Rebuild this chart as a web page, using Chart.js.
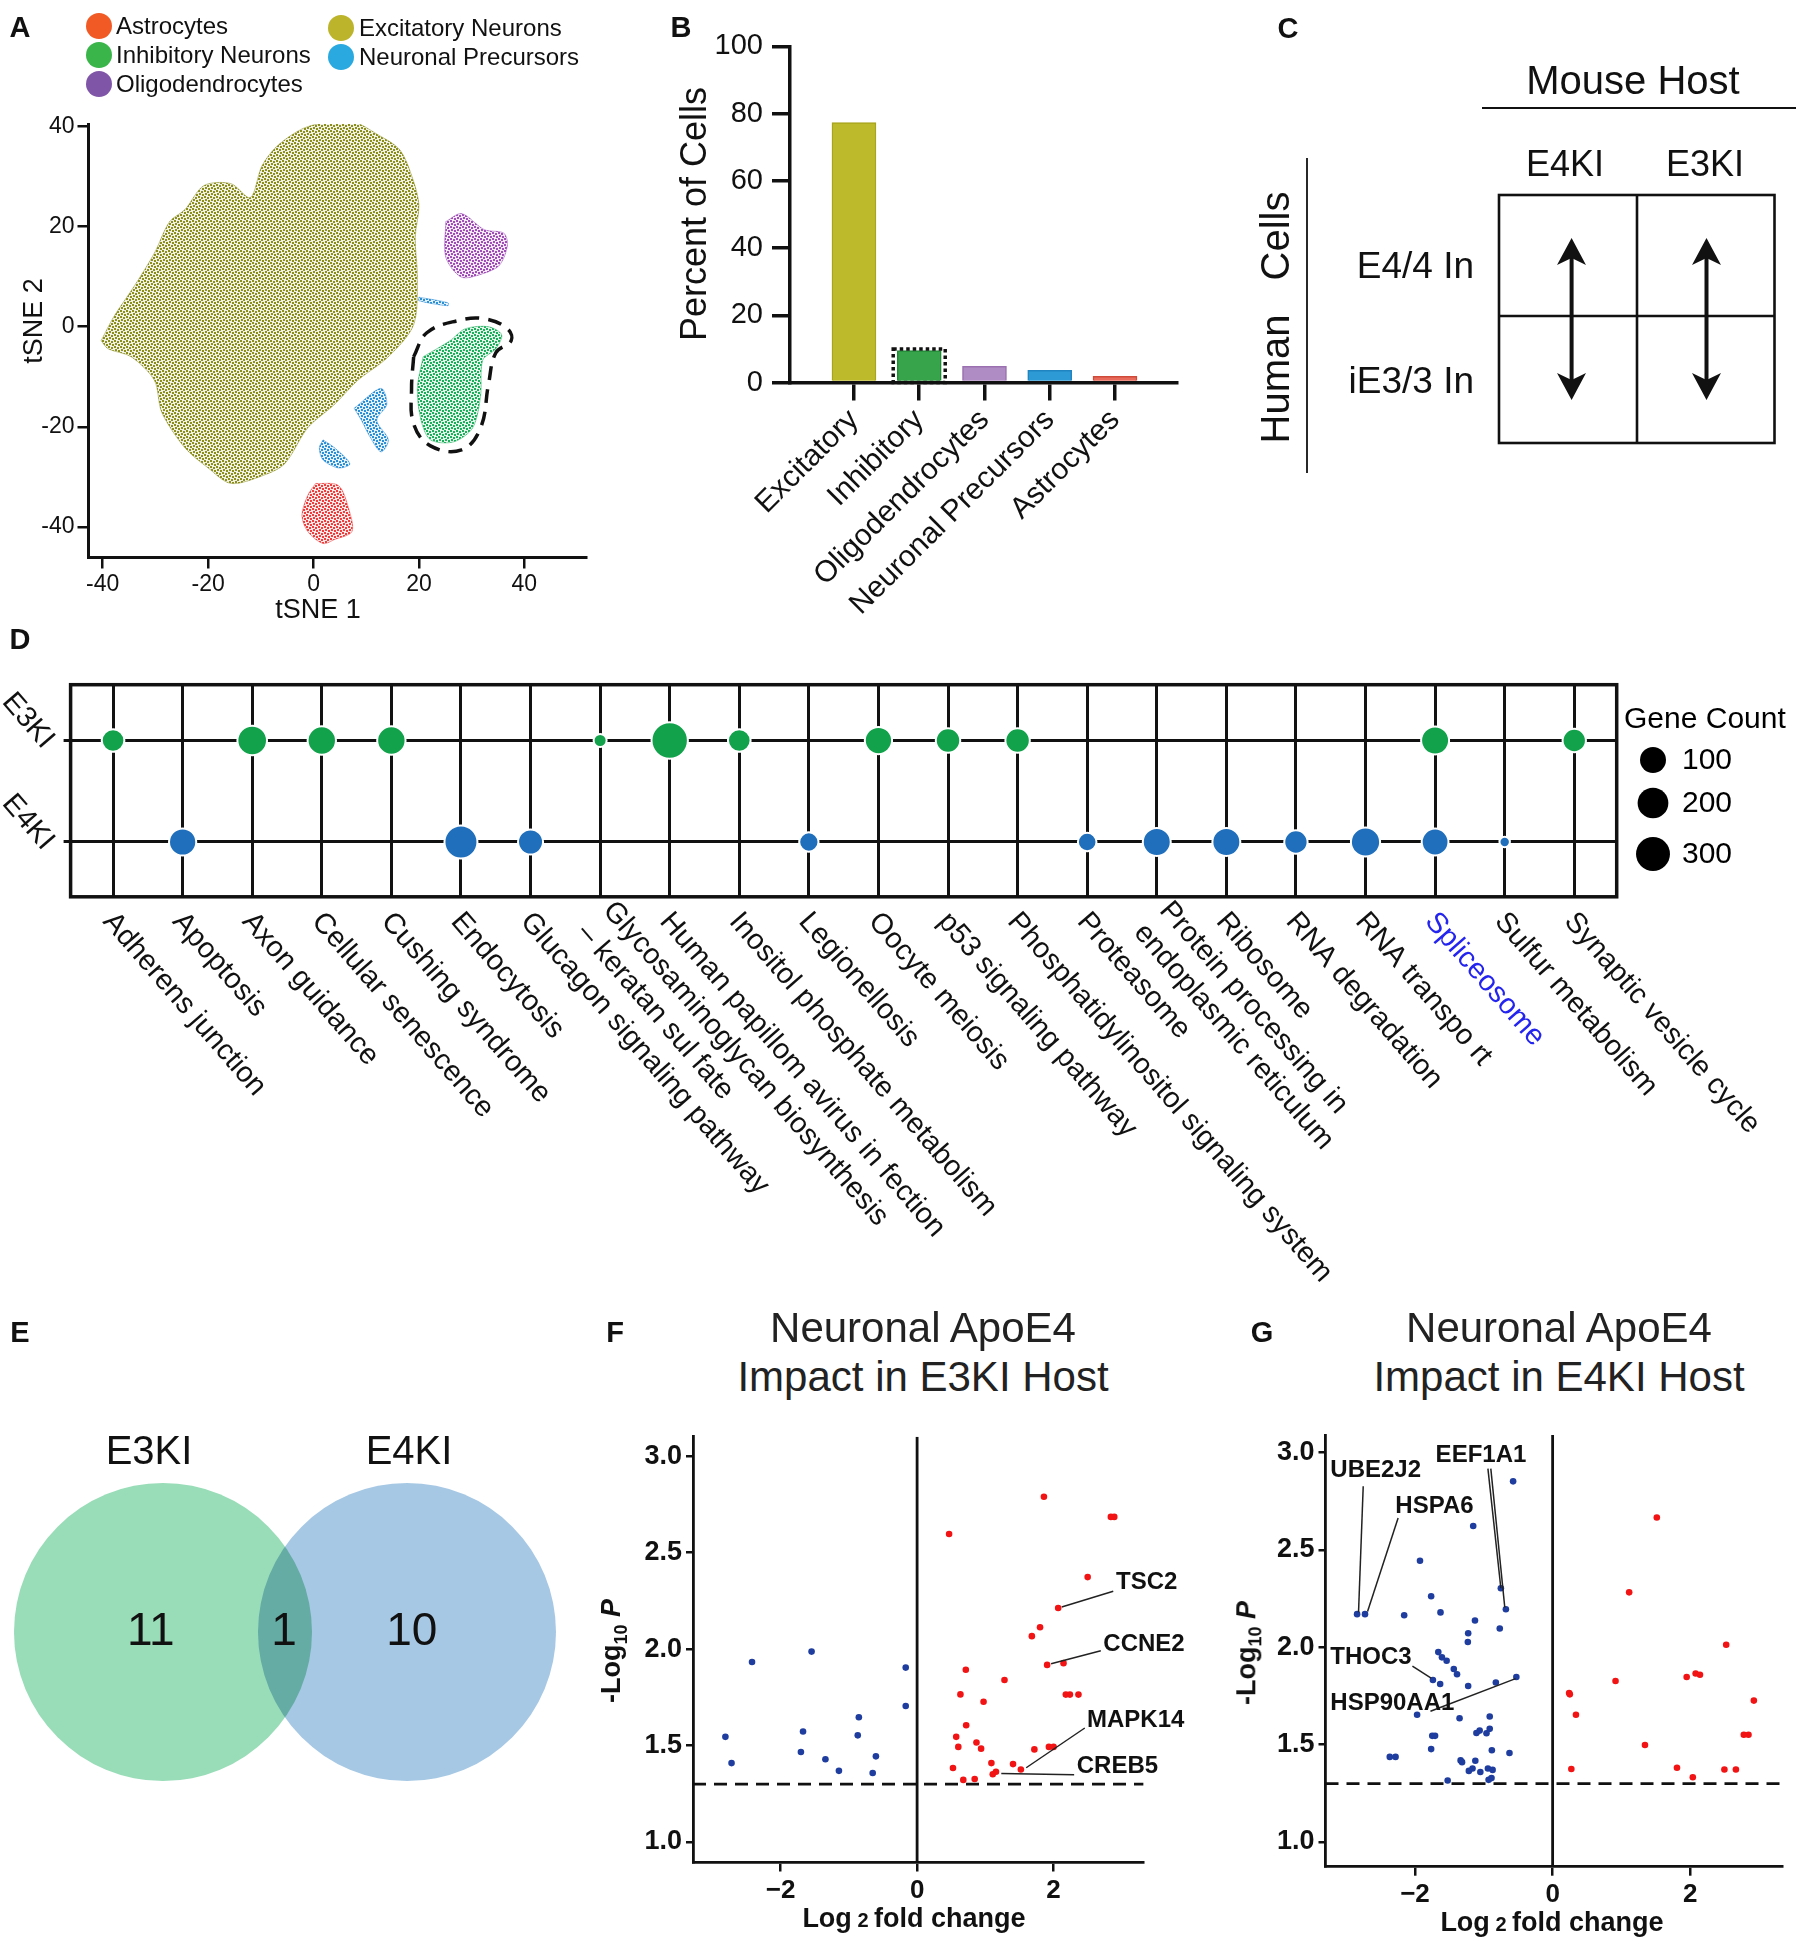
<!DOCTYPE html>
<html>
<head>
<meta charset="utf-8">
<title>Neuronal ApoE4 figure</title>
<script src="https://cdn.jsdelivr.net/npm/chart.js@4.4.1/dist/chart.umd.min.js"></script>
<style>
  body { margin: 0; background: #fff; }
  #page { position: relative; width: 1807px; height: 1950px; overflow: hidden;
          font-family: "Liberation Sans", Arial, sans-serif; color: #111; }
  #page canvas, #page svg { position: absolute; }
  .c { position: absolute; white-space: pre; line-height: 1; transform: translate(-50%, -50%); }
  .l { position: absolute; white-space: pre; line-height: 1; transform: translate(0, -50%); }
  .up { transform: translate(-50%, -50%) rotate(-90deg); }
  .letter { font-weight: bold; font-size: 29px; }
  .dot { position: absolute; width: 26px; height: 26px; border-radius: 50%; transform: translate(-50%, -50%); }
  .lg { font-size: 24px; }
  .vt { font-size: 42px; color: #222; }
  .vb { font-weight: bold; font-size: 27px; }
  .vb sub { font-size: 18px; }
</style>
</head>
<body>
<div id="page">
  <canvas id="chart-a" width="600" height="520" style="left:0;top:100px"></canvas>
  <canvas id="chart-b" width="560" height="610" style="left:640px;top:20px"></canvas>
  <canvas id="chart-d" width="1807" height="700" style="left:0;top:620px"></canvas>
  <canvas id="chart-e" width="600" height="464" style="left:0;top:1400px"></canvas>
  <canvas id="chart-f" width="600" height="550" style="left:600px;top:1400px"></canvas>
  <canvas id="chart-g" width="577" height="550" style="left:1230px;top:1400px"></canvas>

  <svg width="1807" height="500" style="left:0;top:0" font-family="Liberation Sans, Arial, sans-serif" fill="#111">
    <text x="1633" y="80" font-size="40" text-anchor="middle" dominant-baseline="central">Mouse Host</text>
    <line x1="1482" y1="108" x2="1796" y2="108" stroke="#111" stroke-width="1.8"/>
    <line x1="1307" y1="158" x2="1307" y2="473" stroke="#111" stroke-width="1.8"/>
    <text transform="translate(1275,379) rotate(-90)" font-size="40" text-anchor="middle" dominant-baseline="central">Human</text>
    <text transform="translate(1275,236) rotate(-90)" font-size="40" text-anchor="middle" dominant-baseline="central">Cells</text>
    <text x="1565" y="163" font-size="36" text-anchor="middle" dominant-baseline="central">E4KI</text>
    <text x="1705" y="163" font-size="36" text-anchor="middle" dominant-baseline="central">E3KI</text>
    <text x="1474" y="265" font-size="37" text-anchor="end" dominant-baseline="central">E4/4 In</text>
    <text x="1474" y="380" font-size="37" text-anchor="end" dominant-baseline="central">iE3/3 In</text>
    <rect x="1499" y="195" width="275.5" height="248" fill="none" stroke="#111" stroke-width="2.6"/>
    <line x1="1637" y1="195" x2="1637" y2="443" stroke="#111" stroke-width="2.6"/>
    <line x1="1499" y1="316" x2="1774.5" y2="316" stroke="#111" stroke-width="2.6"/>
    <line x1="1571.6" y1="258" x2="1571.6" y2="380" stroke="#111" stroke-width="4"/>
    <polygon points="1571.6,238 1586,265 1571.6,258 1557,265"/>
    <polygon points="1571.6,400 1586,373 1571.6,380 1557,373"/>
    <line x1="1706.5" y1="258" x2="1706.5" y2="380" stroke="#111" stroke-width="4"/>
    <polygon points="1706.5,238 1721,265 1706.5,258 1692,265"/>
    <polygon points="1706.5,400 1721,373 1706.5,380 1692,373"/>
  </svg>

  <div class="c letter" style="left:20px;top:27px">A</div>
  <div class="c letter" style="left:681px;top:27px">B</div>
  <div class="c letter" style="left:1288px;top:28px">C</div>
  <div class="c letter" style="left:20px;top:639px">D</div>
  <div class="c letter" style="left:20px;top:1332px">E</div>
  <div class="c letter" style="left:615px;top:1332px">F</div>
  <div class="c letter" style="left:1262px;top:1332px">G</div>

  <div class="dot" style="left:99px;top:26px;background:#f15a24"></div>
  <div class="l lg" style="left:116px;top:26px">Astrocytes</div>
  <div class="dot" style="left:99px;top:55px;background:#39b54a"></div>
  <div class="l lg" style="left:116px;top:55px">Inhibitory Neurons</div>
  <div class="dot" style="left:99px;top:84px;background:#7f55a8"></div>
  <div class="l lg" style="left:116px;top:84px">Oligodendrocytes</div>
  <div class="dot" style="left:341px;top:28px;background:#bcb42a"></div>
  <div class="l lg" style="left:359px;top:28px">Excitatory Neurons</div>
  <div class="dot" style="left:341px;top:57px;background:#29a9e0"></div>
  <div class="l lg" style="left:359px;top:57px">Neuronal Precursors</div>

  <div class="c" style="left:318px;top:609px;font-size:27px">tSNE 1</div>
  <div class="c up" style="left:33px;top:321px;font-size:27px">tSNE 2</div>
  <div class="c up" style="left:694px;top:214px;font-size:36px">Percent of Cells</div>

  <div class="c" style="left:149px;top:1450px;font-size:40px">E3KI</div>
  <div class="c" style="left:409px;top:1450px;font-size:40px">E4KI</div>

  <div class="c vt" style="left:923px;top:1328px">Neuronal ApoE4</div>
  <div class="c vt" style="left:923px;top:1377px">Impact in E3KI Host</div>
  <div class="c vt" style="left:1559px;top:1328px">Neuronal ApoE4</div>
  <div class="c vt" style="left:1559px;top:1377px">Impact in E4KI Host</div>

  <div class="c up vb" style="left:614px;top:1651px">-Log<sub>10</sub> <i>P</i></div>
  <div class="c vb" style="left:914px;top:1918px">Log<span style="font-size:20px"> 2 </span>fold change</div>
  <div class="c up vb" style="left:1249px;top:1653px">-Log<sub>10</sub> <i>P</i></div>
  <div class="c vb" style="left:1552px;top:1922px">Log<span style="font-size:20px"> 2 </span>fold change</div>
</div>

<script>
/*--------------------------------------------------------------
| Values
--------------------------------------------------------------*/
// A: outlines of each tSNE cluster, [tSNE 1, tSNE 2]
const excitatoryOutline = [[-40.3,-2.8],[-37.9,2.0],[-33.9,8.3],[-30.2,14.7],[-27.3,21.0],[-24.4,23.4],[-20.8,28.2],[-15.7,28.6],[-12.0,25.8],[-9.8,32.1],[-6.9,36.1],[-1.8,39.7],[3.3,40.9],[7.7,40.9],[12.0,38.5],[16.4,35.3],[19.0,29.0],[20.0,24.2],[19.3,17.9],[19.7,9.9],[19.0,0.4],[14.2,-6.0],[8.4,-10.7],[4.0,-15.5],[-1.1,-20.2],[-5.5,-27.4],[-9.8,-29.8],[-15.7,-31.3],[-20.0,-28.2],[-24.4,-24.2],[-28.8,-17.1],[-30.2,-10.7],[-34.6,-6.0],[-39.0,-4.4]];
const inhibitoryOutline = [[20.8,-6.0],[25.9,-2.8],[28.8,-0.4],[33.2,0.0],[35.7,-1.6],[34.6,-4.4],[32.1,-6.7],[31.7,-13.9],[30.2,-20.2],[26.6,-23.0],[22.2,-22.6],[20.4,-18.7],[19.7,-12.3]];
const oligodendrocyteOutline = [[25.1,21.0],[28.1,22.6],[32.4,19.4],[36.1,18.7],[36.8,16.3],[35.3,12.3],[32.4,10.7],[28.1,9.9],[25.1,13.9]];
const astrocyteOutline = [[0.4,-31.3],[4.7,-31.7],[6.6,-36.1],[7.3,-40.9],[4.0,-42.5],[1.8,-43.3],[-1.1,-40.9],[-2.2,-37.7],[-1.1,-33.7]];
const precursorOutline1 = [[1.8,-22.6],[4.0,-24.2],[6.9,-27.4],[4.7,-28.2],[1.8,-26.6],[1.1,-24.2]];
const precursorOutline2 = [[7.7,-16.3],[12.8,-12.3],[13.9,-15.5],[12.0,-18.7],[14.2,-22.6],[12.8,-25.0],[10.6,-21.8],[9.1,-18.7]];
const precursorOutline3 = [[20.0,5.9],[25.5,4.8],[25.5,4.2],[20.0,5.2]];
const inhibitoryGate = [[19.0,-6.0],[21.5,-1.2],[27.3,1.2],[32.4,1.6],[36.8,-0.4],[37.5,-2.8],[34.6,-5.2],[33.2,-11.5],[31.7,-20.2],[28.1,-24.6],[22.2,-23.8],[19.0,-19.4],[18.6,-12.3]];
const tsneTicks = [-40, -20, 0, 20, 40];

// B: share of cells per type
const cellTypes = ["Excitatory", "Inhibitory", "Oligodendrocytes", "Neuronal Precursors", "Astrocytes"];
const cellPercent = [77.3, 9.5, 4.8, 3.6, 1.8];
const inhibitoryBoxTop = 10.0;
const percentTicks = [0, 20, 40, 60, 80, 100];

// D: enriched pathways and gene counts per host (null = not enriched)
const pathways = [
  "Adherens junction", "Apoptosis", "Axon guidance", "Cellular senescence", "Cushing syndrome",
  "Endocytosis", "Glucagon signaling pathway", "Glycosaminoglycan biosynthesis\n\u2013 keratan sul fate",
  "Human papillom avirus in fection", "Inositol phosphate metabolism", "Legionellosis", "Oocyte meiosis",
  "p53 signaling pathway", "Phosphatidylinositol signaling system", "Proteasome",
  "Protein processing in\nendoplasmic reticulum", "Ribosome", "RNA degradation", "RNA transpo rt",
  "Spliceosome", "Sulfur metabolism", "Synaptic vesicle cycle"
];
const e3kiGeneCount = [39, null, 129, 107, 107, null, null, 3, 317, 39, null, 89, 55, 55, null, null, null, null, null, 100, null, 45];
const e4kiGeneCount = [null, 89, null, null, null, 207, 61, null, null, null, 19, null, null, null, 16, 100, 100, 45, 121, 83, 1, null];
const hostRows = ["E4KI", "E3KI"];
const geneCountKey = [100, 200, 300];

// E: Venn counts
const vennCounts = [11, 1, 10]; // E3KI only, shared, E4KI only

// F: ApoE4 impact in E3KI host, [log2 fold change, -log10 P]
const fDown = [[-2.81,1.545],[-2.72,1.409],[-2.42,1.933],[-1.547,1.987],[-1.672,1.573],[-1.703,1.467],[-1.344,1.429],[-1.146,1.369],[-0.854,1.647],[-0.870,1.553],[-0.604,1.444],[-0.651,1.358],[-0.167,1.904],[-0.167,1.705]];
const fUp = [[1.859,2.789],[2.84,2.685],[2.89,2.685],[0.469,2.596],[2.5,2.373],[2.068,2.213],[1.802,2.113],[1.682,2.067],[1.906,1.918],[2.146,1.927],[0.714,1.893],[1.281,1.84],[0.635,1.765],[2.18,1.764],[2.24,1.764],[2.365,1.764],[0.974,1.727],[0.719,1.605],[0.573,1.545],[0.604,1.493],[0.870,1.516],[0.938,1.484],[1.719,1.48],[1.932,1.493],[2.0,1.493],[1.089,1.409],[1.406,1.404],[1.521,1.376],[0.526,1.384],[1.109,1.351],[1.156,1.364],[0.677,1.322],[0.844,1.327]];
const fGenes = ["TSC2", "CCNE2", "MAPK14", "CREB5"];

// G: ApoE4 impact in E4KI host
const gDown = [[-2.841,2.170],[-2.726,2.170],[-2.157,2.164],[-1.927,2.444],[-1.765,2.262],[-1.629,2.179],[-1.154,2.623],[-1.128,2.137],[-1.227,2.072],[-1.232,2.027],[-0.752,2.303],[-0.679,2.195],[-0.768,2.096],[-0.574,2.852],[-1.661,1.975],[-1.608,1.948],[-1.540,1.931],[-1.436,1.888],[-1.389,1.861],[-1.739,1.832],[-1.634,1.811],[-1.227,1.801],[-0.825,1.819],[-0.527,1.847],[-1.969,1.653],[-1.352,1.635],[-0.914,1.644],[-0.914,1.581],[-1.060,1.572],[-1.107,1.560],[-0.961,1.558],[-1.749,1.545],[-1.708,1.545],[-1.765,1.477],[-0.883,1.471],[-0.627,1.457],[-2.366,1.437],[-2.282,1.437],[-1.337,1.419],[-1.316,1.410],[-1.123,1.417],[-1.164,1.377],[-1.217,1.365],[-1.050,1.359],[-0.940,1.377],[-0.872,1.370],[-1.525,1.316],[-0.930,1.319],[-0.888,1.328]];
const gUp = [[1.514,2.666],[1.112,2.282],[2.522,2.013],[0.914,1.827],[1.948,1.847],[2.078,1.865],[2.141,1.859],[0.24,1.765],[0.25,1.758],[0.339,1.653],[2.924,1.726],[2.778,1.551],[2.846,1.551],[1.342,1.498],[0.272,1.375],[1.807,1.381],[2.496,1.372],[2.663,1.372],[2.037,1.332]];
const gGenes = ["UBE2J2", "HSPA6", "EEF1A1", "THOC3", "HSP90AA1"];

const log2Ticks = [-2, 0, 2];
const log10Ticks = [1.0, 1.5, 2.0, 2.5, 3.0];
const pThreshold = 1.3;

/*--------------------------------------------------------------
| Shared setup
--------------------------------------------------------------*/
const FONT = '"Liberation Sans", Arial, sans-serif';
const INK = "#111";
Chart.defaults.font.family = FONT;
Chart.defaults.color = INK;
Chart.defaults.animation = false;
Chart.defaults.responsive = false;
Chart.defaults.events = [];
Chart.defaults.layout.autoPadding = false;
Chart.defaults.plugins.legend.display = false;
Chart.defaults.plugins.tooltip.enabled = false;

const toPoints = (pairs) => pairs.map(([x, y]) => ({ x, y }));
const ring = (pairs) => toPoints(pairs.concat([pairs[0]]));
const fixedTicks = (values) => (scale) => { scale.ticks = values.map((v) => ({ value: v })); };
const dotRadius = (count) => 4.22 * Math.pow(count, 0.244);

// dotted texture standing in for the thousands of single cells
function speckle(ctx, color) {
  const tile = document.createElement("canvas");
  tile.width = 6;
  tile.height = 6;
  const t = tile.getContext("2d");
  t.fillStyle = color;
  t.globalAlpha = 0.12;
  t.fillRect(0, 0, 6, 6);
  t.globalAlpha = 1;
  [[0, 0], [3, 1], [1, 3], [4, 4]].forEach(([x, y]) => t.fillRect(x, y, 2, 2));
  return ctx.createPattern(tile, "repeat");
}

/*--------------------------------------------------------------
| A - tSNE map
--------------------------------------------------------------*/
function tsneChart() {
  const ctx = document.getElementById("chart-a").getContext("2d");
  const clusters = [
    { outline: inhibitoryOutline, color: "#1daf5c" },
    { outline: oligodendrocyteOutline, color: "#a04fb8" },
    { outline: astrocyteOutline, color: "#ee3e3e" },
    { outline: precursorOutline1, color: "#2d8fd5" },
    { outline: precursorOutline2, color: "#2d8fd5" },
    { outline: precursorOutline3, color: "#2d8fd5" },
    { outline: excitatoryOutline, color: "#8c8f1f" },
  ];

  const datasets = [{
    data: ring(inhibitoryGate),
    fill: false,
    borderColor: INK,
    borderWidth: 3.5,
    borderDash: [14, 9],
    pointRadius: 0,
    tension: 0.4,
  }];
  clusters.forEach((c) => datasets.push({
    data: ring(c.outline),
    fill: "shape",
    backgroundColor: speckle(ctx, c.color),
    borderColor: c.color + "80",
    borderWidth: 1,
    pointRadius: 0,
    tension: 0.3,
  }));

  const axisLine = { drawOnChartArea: false, tickLength: 11, lineWidth: 2.5, color: INK };
  new Chart(ctx, {
    type: "line",
    data: { datasets },
    options: {
      layout: { padding: { top: 24, right: 13.5 } },
      scales: {
        x: {
          type: "linear", min: -42.7, max: 51.8,
          afterBuildTicks: fixedTicks(tsneTicks),
          ticks: { font: { size: 23 }, padding: 2 },
          grid: axisLine,
          border: { width: 3, color: INK },
          afterFit: (s) => { s.height = 62.5; },
        },
        y: {
          type: "linear", min: -46.1, max: 40.5,
          afterBuildTicks: fixedTicks(tsneTicks),
          ticks: { font: { size: 23 }, padding: 3 },
          grid: axisLine,
          border: { width: 3, color: INK },
          afterFit: (s) => { s.width = 88.5; },
        },
      },
    },
  });
}

/*--------------------------------------------------------------
| B - percent of cells
--------------------------------------------------------------*/
function percentChart() {
  const ctx = document.getElementById("chart-b").getContext("2d");

  // dotted frame around the inhibitory bar
  const dottedBox = {
    id: "dottedBox",
    afterDatasetsDraw(chart) {
      const { ctx, scales: { x, y } } = chart;
      const cx = x.getPixelForValue(2);
      const top = y.getPixelForValue(inhibitoryBoxTop);
      ctx.save();
      ctx.strokeStyle = INK;
      ctx.lineWidth = 3.5;
      ctx.setLineDash([3.5, 3]);
      ctx.strokeRect(cx - 26, top, 52, y.getPixelForValue(0) - top);
      ctx.restore();
    },
  };

  const axisLine = { drawOnChartArea: false, lineWidth: 3.5, color: INK, offset: false, tickLength: 18 };
  new Chart(ctx, {
    type: "bar",
    data: {
      datasets: [{
        data: cellPercent.map((v, i) => ({ x: i + 1, y: v })),
        backgroundColor: ["#bdba2c", "#37a34a", "#b08cc4", "#2d9ad6", "#e86a5a"],
        borderColor: ["#a8a41c", "#228a36", "#9a70b0", "#1f84c0", "#d04a3a"],
        borderWidth: 1.5,
        barThickness: 44,
      }],
    },
    options: {
      layout: { padding: { top: 26, right: 23 } },
      scales: {
        x: {
          type: "linear", min: 0.02, max: 5.95, offset: false,
          afterBuildTicks: fixedTicks(cellTypes.map((c, i) => i + 1)),
          ticks: {
            callback: (v, i) => cellTypes[i],
            minRotation: 45, maxRotation: 45, autoSkip: false,
            font: { size: 30 }, padding: 2,
          },
          grid: axisLine,
          border: { width: 3.5, color: INK },
          afterFit: (s) => { s.height = 247.5; },
        },
        y: {
          min: 0, max: 100,
          afterBuildTicks: fixedTicks(percentTicks),
          ticks: { font: { size: 29 }, padding: 9 },
          grid: axisLine,
          border: { width: 3.5, color: INK },
          afterFit: (s) => { s.width = 150; },
        },
      },
    },
    plugins: [dottedBox],
  });
}

/*--------------------------------------------------------------
| D - pathway dot plot
--------------------------------------------------------------*/
function pathwayChart() {
  const ctx = document.getElementById("chart-d").getContext("2d");

  const rowPoints = (counts, row) => counts
    .map((n, i) => (n == null ? null : { x: i, y: row, r: dotRadius(n) + 1 }))
    .filter(Boolean);

  const pathwayAxis = {
    id: "pathwayAxis",
    beforeDatasetsDraw(chart) {
      const { ctx, chartArea: a } = chart;
      ctx.save();
      ctx.lineWidth = 3.5;
      ctx.strokeStyle = INK;
      ctx.strokeRect(a.left, a.top, a.right - a.left, a.bottom - a.top);
      ctx.restore();
    },
    afterDraw(chart) {
      const { ctx, chartArea: a, scales: { x, y } } = chart;
      const tilt = 49 * Math.PI / 180;
      ctx.save();
      ctx.font = "29px " + FONT;
      ctx.textBaseline = "middle";

      pathways.forEach((name, i) => {
        const lines = name.split("\n");
        ctx.save();
        ctx.translate(x.getPixelForValue(i) - 5, a.bottom + 20);
        ctx.rotate(tilt);
        ctx.textAlign = "left";
        ctx.fillStyle = name === "Spliceosome" ? "#2424f0" : INK;
        lines.forEach((ln, k) => ctx.fillText(ln, 0, (k - (lines.length - 1) / 2) * 34));
        ctx.restore();
      });

      hostRows.forEach((row, v) => {
        ctx.save();
        ctx.translate(a.left - 22, y.getPixelForValue(v) + 4);
        ctx.rotate(tilt);
        ctx.textAlign = "right";
        ctx.fillStyle = INK;
        ctx.fillText(row, 0, 0);
        ctx.restore();
      });

      // gene count key
      ctx.font = "30px " + FONT;
      ctx.textAlign = "left";
      ctx.fillStyle = "#000";
      ctx.fillText("Gene Count", 1624, 100);
      const keyY = [140, 183, 234];
      geneCountKey.forEach((n, k) => {
        ctx.beginPath();
        ctx.arc(1653, keyY[k], dotRadius(n), 0, Math.PI * 2);
        ctx.fill();
        ctx.fillText(String(n), 1682, keyY[k] + 1);
      });
      ctx.restore();
    },
  };

  new Chart(ctx, {
    type: "bubble",
    data: {
      datasets: [
        { data: rowPoints(e3kiGeneCount, 1), backgroundColor: "#12a24b", borderColor: "#fff", borderWidth: 2 },
        { data: rowPoints(e4kiGeneCount, 0), backgroundColor: "#1f6fbd", borderColor: "#fff", borderWidth: 2 },
      ],
    },
    options: {
      layout: { padding: { top: 64.7, right: 190.3 } },
      scales: {
        x: {
          type: "linear", min: -0.61, max: 21.61,
          afterBuildTicks: fixedTicks(pathways.map((p, i) => i)),
          ticks: { display: false },
          grid: { color: INK, lineWidth: 3, drawTicks: false },
          border: { display: false },
          afterFit: (s) => { s.height = 423.2; },
        },
        y: {
          type: "linear", min: -0.54, max: 1.55,
          afterBuildTicks: fixedTicks([0, 1]),
          ticks: { display: false },
          grid: { color: INK, lineWidth: 3, tickLength: 7 },
          border: { display: false },
          afterFit: (s) => { s.width = 70.6; },
        },
      },
    },
    plugins: [pathwayAxis],
  });
}

/*--------------------------------------------------------------
| E - Venn of enriched pathways
--------------------------------------------------------------*/
function vennChart() {
  const ctx = document.getElementById("chart-e").getContext("2d");

  const vennText = {
    id: "vennText",
    beforeDatasetsDraw(chart) { chart.ctx.save(); chart.ctx.globalCompositeOperation = "multiply"; },
    afterDatasetsDraw(chart) {
      const { ctx, scales: { x, y } } = chart;
      ctx.restore();
      ctx.save();
      ctx.font = "46px " + FONT;
      ctx.fillStyle = INK;
      ctx.textAlign = "center";
      ctx.textBaseline = "middle";
      [-0.05, 0.496, 1.02].forEach((pos, k) => {
        ctx.fillText(String(vennCounts[k]), x.getPixelForValue(pos), y.getPixelForValue(0));
      });
      ctx.restore();
    },
  };

  new Chart(ctx, {
    type: "bubble",
    data: {
      datasets: [
        { data: [{ x: 0, y: 0, r: 149 }], backgroundColor: "#99dcb8", borderWidth: 0 },
        { data: [{ x: 1, y: 0, r: 149 }], backgroundColor: "#a6c8e4", borderWidth: 0 },
      ],
    },
    options: {
      scales: {
        x: { display: false, min: -0.668, max: 1.791 },
        y: { display: false, min: -1, max: 1 },
      },
    },
    plugins: [vennText],
  });
}

/*--------------------------------------------------------------
| F, G - volcano plots
--------------------------------------------------------------*/
function volcanoChart(id, down, up, callouts, frame) {
  const ctx = document.getElementById(id).getContext("2d");

  const calloutLayer = {
    id: "callouts",
    afterDatasetsDraw(chart) {
      const { ctx, scales: { x, y } } = chart;
      ctx.save();
      ctx.strokeStyle = "#222";
      ctx.lineWidth = 1.5;
      ctx.font = "bold 24px " + FONT;
      ctx.fillStyle = INK;
      ctx.textBaseline = "middle";
      callouts.forEach((c) => {
        c.leaders.forEach(([x1, y1, x2, y2]) => {
          ctx.beginPath();
          ctx.moveTo(x.getPixelForValue(x1), y.getPixelForValue(y1));
          ctx.lineTo(x.getPixelForValue(x2), y.getPixelForValue(y2));
          ctx.stroke();
        });
        ctx.fillText(c.gene, x.getPixelForValue(c.at[0]), y.getPixelForValue(c.at[1]));
      });
      ctx.restore();
    },
  };

  const guide = (pts, dash) => ({
    data: pts, showLine: true, pointRadius: 0, borderColor: INK, borderWidth: 2.8, borderDash: dash,
  });
  const axisLine = { drawOnChartArea: false, lineWidth: 2.5, color: INK };

  new Chart(ctx, {
    type: "scatter",
    data: {
      datasets: [
        { data: toPoints(down), pointRadius: 3.3, pointBorderWidth: 0, backgroundColor: "#1e3d9e" },
        { data: toPoints(up), pointRadius: 3.3, pointBorderWidth: 0, backgroundColor: "#f21414" },
        guide([{ x: 0, y: frame.y[0] }, { x: 0, y: frame.y[1] }], []),
        guide([{ x: frame.x[0], y: pThreshold }, { x: frame.x[1], y: pThreshold }], [13, 8]),
      ],
    },
    options: {
      layout: { padding: { top: frame.top, right: frame.right } },
      scales: {
        x: {
          type: "linear", min: frame.x[0], max: frame.x[1],
          afterBuildTicks: fixedTicks(log2Ticks),
          ticks: {
            callback: (v) => (v < 0 ? "\u2212" + Math.abs(v) : String(v)),
            font: { size: 26, weight: "bold" }, padding: 4,
          },
          grid: { ...axisLine, tickLength: 9 },
          border: { width: 2.8, color: INK },
          afterFit: (s) => { s.height = frame.xh; },
        },
        y: {
          type: "linear", min: frame.y[0], max: frame.y[1],
          afterBuildTicks: fixedTicks(log10Ticks),
          ticks: {
            callback: (v) => v.toFixed(1),
            font: { size: 27, weight: "bold" }, padding: 4,
          },
          grid: { ...axisLine, tickLength: 7 },
          border: { width: 2.8, color: INK },
          afterFit: (s) => { s.width = frame.yw; },
        },
      },
    },
    plugins: [calloutLayer],
  });
}

function volcanoCharts() {
  volcanoChart("chart-f", fDown, fUp, [
    { gene: fGenes[0], at: [2.916, 2.347], leaders: [[2.875, 2.3, 2.12, 2.218]] },
    { gene: fGenes[1], at: [2.73, 2.026], leaders: [[2.693, 1.991, 1.964, 1.924]] },
    { gene: fGenes[2], at: [2.49, 1.632], leaders: [[2.458, 1.591, 1.599, 1.385]] },
    { gene: fGenes[3], at: [2.34, 1.394], leaders: [[2.302, 1.349, 1.234, 1.355]] },
  ], { x: [-3.285, 3.32], y: [0.894, 3.1], top: 36.8, right: 56.4, yw: 93, xh: 87.5 });

  volcanoChart("chart-g", gDown, gUp, [
    { gene: gGenes[0], at: [-3.23, 2.91], leaders: [[-2.752, 2.827, -2.82, 2.18]] },
    { gene: gGenes[1], at: [-2.285, 2.725], leaders: [[-2.245, 2.664, -2.689, 2.184]] },
    { gene: gGenes[2], at: [-1.70, 2.987], leaders: [[-0.94, 2.917, -0.752, 2.303], [-0.898, 2.917, -0.695, 2.204]] },
    { gene: gGenes[3], at: [-3.23, 1.95], leaders: [[-2.037, 1.903, -1.765, 1.841]] },
    { gene: gGenes[4], at: [-3.23, 1.71], leaders: [[-1.775, 1.671, -0.538, 1.839]] },
  ], { x: [-3.30, 3.33], y: [0.873, 3.09], top: 35, right: 25.2, yw: 95.5, xh: 83.3 });
}

document.addEventListener("DOMContentLoaded", () => {
  tsneChart();
  percentChart();
  pathwayChart();
  vennChart();
  volcanoCharts();
});
</script>
</body>
</html>
